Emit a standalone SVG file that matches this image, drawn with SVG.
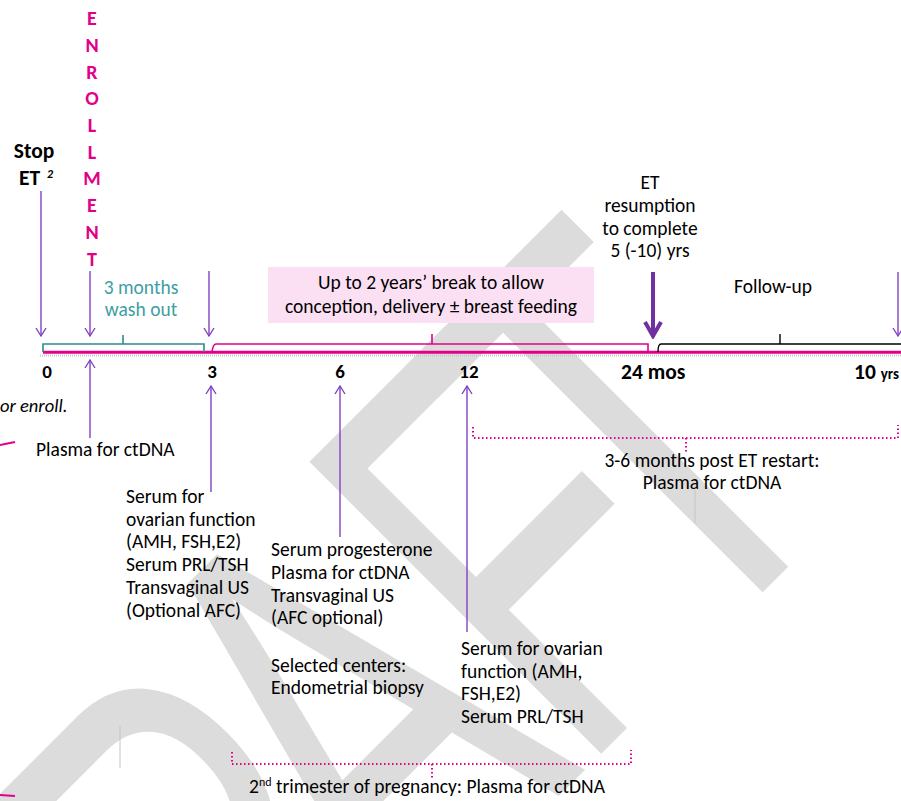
<svg xmlns="http://www.w3.org/2000/svg" width="901" height="801" viewBox="0 0 901 801">
<defs>
<style>
.t{font-family:Carlito,Lato,'Liberation Sans',sans-serif;font-size:19.5px;fill:#000}
.b{font-weight:bold}
.m{text-anchor:middle}
.n{font-size:19px}
.big{font-size:21.5px}
.mag{fill:#e2008a}
.teal{fill:#3e9ea3}
.arr{stroke:#8042c0;stroke-width:1.4;fill:none}
.dot{stroke:#e2008a;stroke-width:2;stroke-dasharray:1.5 2.5;fill:none}
.wm{font-family:'Liberation Sans',Arial,sans-serif;font-size:600px;fill:#dcdcdc}
</style>
<marker id="ah" viewBox="-10 -7 12 14" refX="0" refY="0" markerWidth="12" markerHeight="14" markerUnits="userSpaceOnUse" orient="auto">
<path d="M-8,-5 L0,0 L-8,5" fill="none" stroke="#8042c0" stroke-width="1.4"/>
</marker>
<marker id="ahb" viewBox="-18 -10 20 20" refX="0" refY="0" markerWidth="20" markerHeight="20" markerUnits="userSpaceOnUse" orient="auto">
<path d="M-15,-8 L-1,0 L-15,8" fill="none" stroke="#7030a0" stroke-width="4"/>
</marker>
</defs>
<rect width="901" height="801" fill="#fff"/>

<g id="watermark" transform="translate(677.5,677.5) rotate(-45) scale(0.65,1)">
<text class="wm" x="-939" y="16">R</text>
<text class="wm" x="-600" y="0">A</text>
<text class="wm" x="-215" y="0">F</text>
<text class="wm" x="30" y="0">T</text>
</g>
<g id="artifacts" stroke="#c4c4c4" stroke-width="1">
<line x1="695" y1="490" x2="695" y2="523"/>
<line x1="120" y1="726" x2="120" y2="768"/>
</g>

<g id="timeline">
<line x1="40" y1="355.5" x2="901" y2="355.5" stroke="#c8c8c8" stroke-width="2" stroke-dasharray="1 1"/>
<line x1="43" y1="352.3" x2="901" y2="352.3" stroke="#e2008a" stroke-width="3"/>
</g>

<g id="connectors">
<path d="M43,352 V344 H204 V352 M123,344 V335" stroke="#2e8b8f" stroke-width="1.6" fill="none"/>
<path d="M212,352 Q213,344 216,344 H648 V352 M432,344 V334" stroke="#e2008a" stroke-width="1.6" fill="none"/>
<path d="M658,352 Q658,344 661,344 H901 M780,344 V334" stroke="#000" stroke-width="1.4" fill="none"/>
<line class="arr" x1="41" y1="191" x2="41" y2="336" marker-end="url(#ah)"/>
<line class="arr" x1="90" y1="271" x2="90" y2="336" marker-end="url(#ah)"/>
<line class="arr" x1="209" y1="271" x2="209" y2="336" marker-end="url(#ah)"/>
<line class="arr" x1="898" y1="272" x2="898" y2="336" marker-end="url(#ah)"/>
<line x1="653" y1="272" x2="653" y2="337" stroke="#7030a0" stroke-width="4" marker-end="url(#ahb)"/>
<line class="arr" x1="90" y1="438" x2="90" y2="360" marker-end="url(#ah)"/>
<line class="arr" x1="211" y1="492" x2="211" y2="386" marker-end="url(#ah)"/>
<line class="arr" x1="340" y1="537" x2="340" y2="386" marker-end="url(#ah)"/>
<line class="arr" x1="467" y1="632" x2="467" y2="386" marker-end="url(#ah)"/>
<path class="dot" d="M473,427 V438 H898 V425 M686,438 V452"/>
<path class="dot" d="M232,752 V764 H631 V750 M432,764 V778"/>
<line x1="0" y1="445" x2="15" y2="442" stroke="#e2008a" stroke-width="2"/>
<line x1="0" y1="795" x2="15" y2="796" stroke="#e2008a" stroke-width="2"/>
</g>

<g id="stop-et">
<text class="t b m big" x="34" y="158">Stop</text>
<text class="t b big" x="19" y="185">ET</text>
<text class="t b" x="47" y="178" style="font-size:12px;font-style:italic">2</text>
</g>

<g id="enrollment">
<text class="t b m mag" style="font-size:20px" x="92" y="25">E</text>
<text class="t b m mag" style="font-size:20px" x="92" y="52">N</text>
<text class="t b m mag" style="font-size:20px" x="92" y="79">R</text>
<text class="t b m mag" style="font-size:20px" x="92" y="105">O</text>
<text class="t b m mag" style="font-size:20px" x="92" y="132">L</text>
<text class="t b m mag" style="font-size:20px" x="92" y="159">L</text>
<text class="t b m mag" style="font-size:20px" x="92" y="185">M</text>
<text class="t b m mag" style="font-size:20px" x="92" y="212">E</text>
<text class="t b m mag" style="font-size:20px" x="92" y="239">N</text>
<text class="t b m mag" style="font-size:20px" x="92" y="266">T</text>
</g>

<g id="washout">
<text class="t m teal" x="141" y="294">3 months</text>
<text class="t m teal" x="141" y="316">wash out</text>
</g>

<g id="break-box">
<rect x="268" y="267" width="326" height="56" fill="#fbe0f4"/>
<text class="t m" x="431" y="289">Up to 2 years’ break to allow</text>
<text class="t m" x="431" y="313">conception, delivery ± breast feeding</text>
</g>

<g id="et-resumption">
<text class="t m" x="650" y="189">ET</text>
<text class="t m" x="650" y="212">resumption</text>
<text class="t m" x="650" y="235">to complete</text>
<text class="t m" x="650" y="257">5 (-10) yrs</text>
</g>

<g id="follow-up">
<text class="t m" x="773" y="293">Follow-up</text>
</g>

<g id="ticks">
<text class="t b m n" x="47" y="378">0</text>
<text class="t b m n" x="212" y="378">3</text>
<text class="t b m n" x="340" y="378">6</text>
<text class="t b m n" x="469" y="378">12</text>
<text class="t b big" x="621" y="379">24 mos</text>
<text class="t b big" x="854" y="379">10 <tspan style="font-size:15px">yrs</tspan></text>
</g>

<g id="enroll-note">
<text class="t" x="0" y="412" style="font-style:italic;font-size:18.5px">or enroll.</text>
</g>

<g id="plasma-0">
<text class="t" x="36" y="456">Plasma for ctDNA</text>
</g>

<g id="month3">
<text class="t" x="126" y="503">Serum for</text>
<text class="t" x="126" y="526">ovarian function</text>
<text class="t" x="126" y="548">(AMH, FSH,E2)</text>
<text class="t" x="126" y="571">Serum PRL/TSH</text>
<text class="t" x="126" y="594">Transvaginal US</text>
<text class="t" x="126" y="617">(Optional AFC)</text>
</g>

<g id="month6">
<text class="t" x="271" y="556">Serum progesterone</text>
<text class="t" x="271" y="579">Plasma for ctDNA</text>
<text class="t" x="271" y="602">Transvaginal US</text>
<text class="t" x="271" y="624">(AFC optional)</text>
<text class="t" x="271" y="672">Selected centers:</text>
<text class="t" x="271" y="694">Endometrial biopsy</text>
</g>

<g id="month12">
<text class="t" x="461" y="655">Serum for ovarian</text>
<text class="t" x="461" y="678">function (AMH,</text>
<text class="t" x="461" y="700">FSH,E2)</text>
<text class="t" x="461" y="723">Serum PRL/TSH</text>
</g>

<g id="post-et">
<text class="t m" x="712" y="467">3-6 months post ET restart:</text>
<text class="t m" x="712" y="489">Plasma for ctDNA</text>
</g>

<g id="trimester">
<text class="t" x="249" y="793">2<tspan style="font-size:12px" dy="-7">nd</tspan><tspan dy="7">  trimester of pregnancy: Plasma for ctDNA</tspan></text>
</g>
</svg>
